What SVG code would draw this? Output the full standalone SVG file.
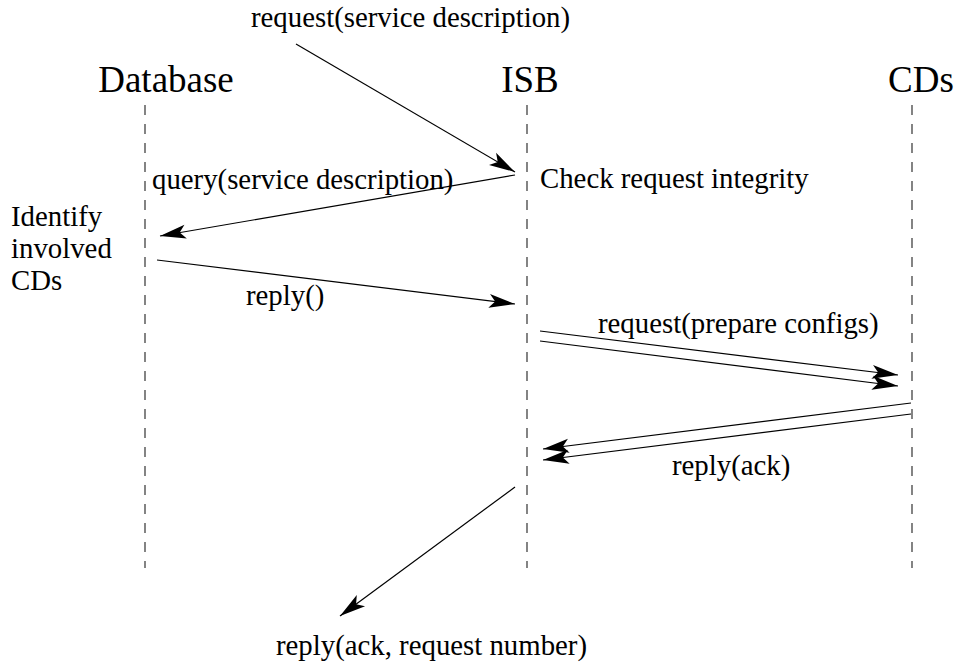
<svg xmlns="http://www.w3.org/2000/svg" width="958" height="663" viewBox="0 0 958 663">
<defs>
<marker id="ah" markerWidth="30" markerHeight="20" viewBox="-28 -10 30 20" refX="0" refY="0" orient="auto" markerUnits="userSpaceOnUse">
<path d="M0,0 L-26,-7 L-20,0 L-26,7 Z" fill="#000"/>
</marker>
</defs>
<style>
text{font-family:"Liberation Serif","Times New Roman",serif;fill:#000}
.h{font-size:37px}
.t{font-size:28.8px}
.life{stroke:#333;stroke-width:1.2;stroke-dasharray:10 9;fill:none}
.msg{stroke:#000;stroke-width:1.2;fill:none;marker-end:url(#ah)}
</style>
<rect width="958" height="663" fill="#fff"/>
<g id="database">
<text class="h" x="166" y="92" text-anchor="middle">Database</text>
<line class="life" x1="145" y1="105" x2="145" y2="568"/>
<text class="t" x="11" y="226">Identify</text>
<text class="t" x="11" y="258">involved</text>
<text class="t" x="11" y="290">CDs</text>
</g>
<g id="isb">
<text class="h" x="530" y="92" text-anchor="middle">ISB</text>
<line class="life" x1="527" y1="105" x2="527" y2="568"/>
<text class="t" x="540" y="188">Check request integrity</text>
</g>
<g id="cds">
<text class="h" x="921" y="92" text-anchor="middle">CDs</text>
<line class="life" x1="912" y1="105" x2="912" y2="568"/>
</g>
<g id="connectors">
<line class="msg" x1="296" y1="44" x2="515" y2="172"/>
<line class="msg" x1="515" y1="175" x2="160" y2="236"/>
<line class="msg" x1="157" y1="260" x2="515" y2="304"/>
<line class="msg" x1="540" y1="331" x2="898" y2="375"/>
<line class="msg" x1="540" y1="341" x2="898" y2="386"/>
<line class="msg" x1="911" y1="403" x2="543" y2="449"/>
<line class="msg" x1="911" y1="414" x2="543" y2="460"/>
<line class="msg" x1="515" y1="487" x2="340" y2="616"/>
</g>
<g id="labels">
<text class="t" x="251" y="27">request(service description)</text>
<text class="t" x="152" y="189">query(service description)</text>
<text class="t" x="246" y="305">reply()</text>
<text class="t" x="598" y="333">request(prepare configs)</text>
<text class="t" x="672" y="475">reply(ack)</text>
<text class="t" x="276" y="655">reply(ack, request number)</text>
</g>
</svg>
